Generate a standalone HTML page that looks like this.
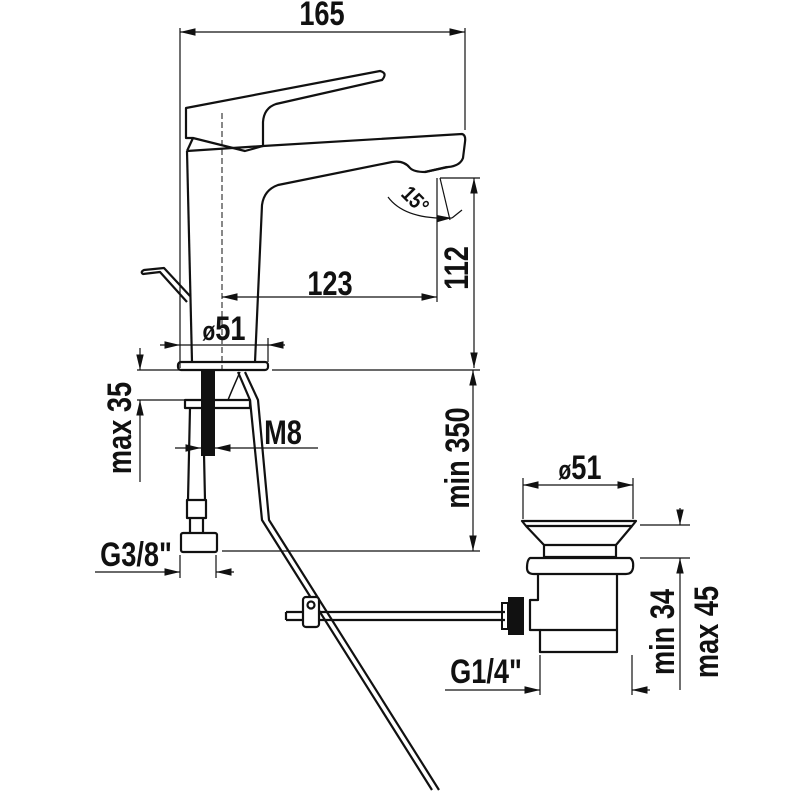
<!DOCTYPE html>
<html><head><meta charset="utf-8"><style>
html,body{margin:0;padding:0;background:#fff;}
svg{display:block;}
text{font-family:"Liberation Sans",sans-serif;font-weight:bold;fill:#111;}
</style></head><body>
<svg width="800" height="800" viewBox="0 0 800 800" xmlns="http://www.w3.org/2000/svg">
<defs>
<marker id="a" viewBox="0 0 10 10" refX="10" refY="5" markerWidth="13" markerHeight="13" orient="auto-start-reverse"><path d="M0,2.6 L10,5 L0,7.4 z" fill="#111"/></marker>
</defs>
<g stroke="#111" fill="none" stroke-width="1.2">
<line x1="180" y1="32" x2="465" y2="32" marker-start="url(#a)" marker-end="url(#a)"/>
<line x1="180" y1="28" x2="180" y2="368"/>
<line x1="465" y1="28" x2="465" y2="130"/>
</g>
<g stroke="#111" fill="none" stroke-width="2.2" stroke-linejoin="round">
<path d="M186,108 L380,71 Q388,73 382,80 L276,104 Q264,108 263,122 L263,146 L245,151 L193,138 L186,138 Z"/>
<path d="M187,151 L263,146 L462,134 Q466,135 465,142 L463,158 Q460,166 448,167 L425,172 Q414,172 410,168 Q404,160 392,162 L278,185 Q264,190 262,205 L255,362"/>
<path d="M187,151 L192,362"/>
<path d="M193,138 L187,151"/>
<path d="M425,172 L447,167"/>
<path d="M190,296 L164,268 L144,270 Q140,272 143,274 L160,272 L187,302"/>
<rect x="178" y="362" width="90" height="8" rx="3"/>
<rect x="185" y="400" width="65" height="8"/>
<path d="M190,408 L188,500 M203,408 L205,500"/>
<rect x="187" y="500" width="19" height="18"/>
<rect x="181" y="533" width="36" height="19" rx="2"/>
<path d="M190,518 L190,533 M203,518 L203,533"/>
<path d="M238,372 L250,400 L262,520 L432,790"/>
<path d="M245,372 L258,400 L269,520 L439,790" />
<path d="M240,372 Q232,390 228,400" stroke-width="1.5"/>
<path d="M286,612 L505,612 M286,620 L505,620 M286,612 L286,620"/>
<rect x="303" y="597" width="16" height="30" rx="3" fill="#fff"/>
<circle cx="311" cy="605" r="3.5"/>
<path d="M522,521 L636,521 L632,526 L616,545 L616,557 L544,557 L544,545 L526,526 Z"/>
<path d="M526,526 L632,526"/>
<path d="M544,545 L616,545"/>
<path d="M530,558 L630,558 Q634,560 633,568 Q632,574 626,574 L534,574 Q527,574 527,568 Q527,560 530,558 Z"/>
<path d="M538,574 L538,600 L530,600 L530,630 L540,630 L540,652 L617,652 L617,574"/>
<path d="M540,630 L617,630"/>
</g>
<rect x="201" y="370" width="14" height="86" fill="#111"/>
<rect x="508" y="597" width="16" height="38" fill="#111"/>
<rect x="502" y="603" width="6" height="26" fill="none" stroke="#111" stroke-width="2"/>
<line x1="222" y1="113" x2="222" y2="372" stroke="#111" stroke-width="1" stroke-dasharray="6,3"/>
<g stroke="#111" fill="none" stroke-width="1.2">
<line x1="222" y1="297" x2="437" y2="297" marker-start="url(#a)" marker-end="url(#a)"/>
<line x1="437" y1="178" x2="437" y2="302"/>
<path d="M388,197 Q405,220 452,218" marker-end="url(#a)"/>
<line x1="440" y1="178" x2="450" y2="220"/>
<path d="M462,210 L452,218"/>
<line x1="160" y1="345" x2="180" y2="345" marker-end="url(#a)"/>
<line x1="180" y1="345" x2="268" y2="345"/>
<line x1="285" y1="345" x2="268" y2="345" marker-end="url(#a)"/>
<line x1="268" y1="338" x2="268" y2="362"/>
<line x1="474" y1="178" x2="474" y2="368" marker-start="url(#a)" marker-end="url(#a)"/>
<line x1="440" y1="178" x2="480" y2="178"/>
<line x1="137" y1="370" x2="180" y2="370"/>
<line x1="272" y1="370" x2="480" y2="370"/>
<line x1="140" y1="348" x2="140" y2="370" marker-end="url(#a)"/>
<line x1="140" y1="482" x2="140" y2="400" marker-end="url(#a)"/>
<line x1="137" y1="400" x2="185" y2="400"/>
<line x1="175" y1="448" x2="201" y2="448" marker-end="url(#a)"/>
<line x1="318" y1="448" x2="215" y2="448" marker-end="url(#a)"/>
<line x1="473" y1="370" x2="473" y2="551" marker-start="url(#a)" marker-end="url(#a)"/>
<line x1="222" y1="551" x2="480" y2="551"/>
<line x1="95" y1="572" x2="180" y2="572" marker-end="url(#a)"/>
<line x1="234" y1="572" x2="216" y2="572" marker-end="url(#a)"/>
<line x1="180" y1="555" x2="180" y2="578"/>
<line x1="216" y1="555" x2="216" y2="578"/>
<line x1="523" y1="485" x2="633" y2="485" marker-start="url(#a)" marker-end="url(#a)"/>
<line x1="523" y1="478" x2="523" y2="519"/>
<line x1="633" y1="478" x2="633" y2="519"/>
<line x1="640" y1="525" x2="690" y2="525"/>
<line x1="640" y1="558" x2="690" y2="558"/>
<line x1="680" y1="508" x2="680" y2="525" marker-end="url(#a)"/>
<line x1="680" y1="690" x2="680" y2="558" marker-end="url(#a)"/>
<line x1="445" y1="690" x2="540" y2="690" marker-end="url(#a)"/>
<line x1="650" y1="690" x2="632" y2="690" marker-end="url(#a)"/>
<line x1="540" y1="655" x2="540" y2="695"/>
<line x1="632" y1="655" x2="632" y2="695"/>
</g>
<g font-size="34">
<text transform="translate(322,25) scale(0.8,1)" text-anchor="middle">165</text>
<text transform="translate(330,295) scale(0.8,1)" text-anchor="middle">123</text>
<text transform="translate(224,340) scale(0.8,1)" text-anchor="middle"><tspan font-size="26">ø</tspan>51</text>
<text transform="translate(283,444) scale(0.8,1)" text-anchor="middle">M8</text>
<text transform="translate(136,566) scale(0.8,1)" text-anchor="middle">G3/8"</text>
<text transform="translate(580,479) scale(0.8,1)" text-anchor="middle"><tspan font-size="26">ø</tspan>51</text>
<text transform="translate(486,683) scale(0.8,1)" text-anchor="middle">G1/4"</text>
<text transform="translate(468,268) rotate(-90) scale(0.8,1)" text-anchor="middle">112</text>
<text transform="translate(131,428) rotate(-90) scale(0.8,1)" text-anchor="middle">max 35</text>
<text transform="translate(469,458) rotate(-90) scale(0.8,1)" text-anchor="middle">min 350</text>
<text transform="translate(674,632) rotate(-90) scale(0.8,1)" text-anchor="middle">min 34</text>
<text transform="translate(718,632) rotate(-90) scale(0.8,1)" text-anchor="middle">max 45</text>
<text transform="translate(410,205) rotate(45) scale(0.85,1)" text-anchor="middle" font-size="22">15°</text>
</g>
</svg>
</body></html>
